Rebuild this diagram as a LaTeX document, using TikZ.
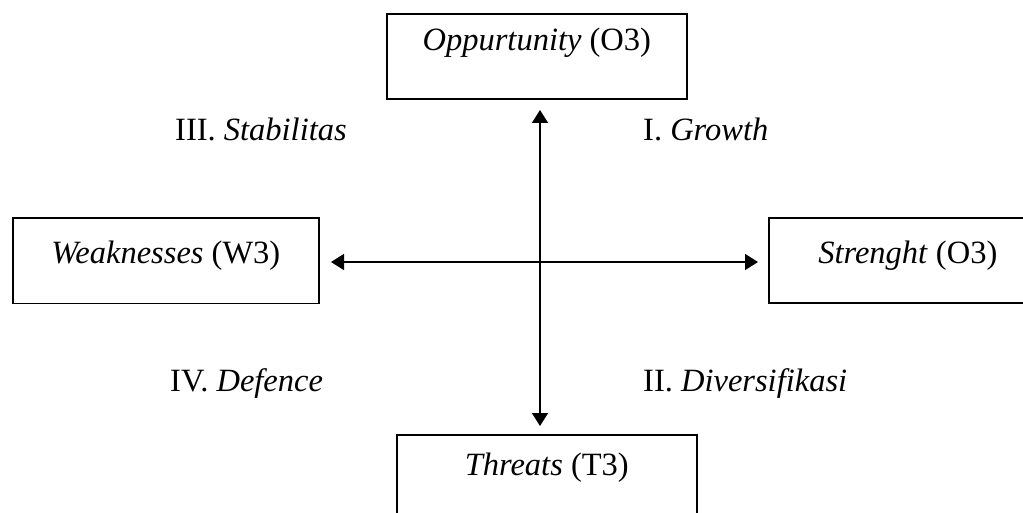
\documentclass[tikz,border=0pt]{standalone}
\usepackage{fontspec}
\setmainfont{Liberation Serif}
\usetikzlibrary{arrows.meta}
\begin{document}
\begin{tikzpicture}[x=1pt,y=-1pt,
  box/.style={draw, line width=1.6pt, rectangle, inner sep=0pt, anchor=north west,
    align=center, minimum height=85pt,
    font=\fontsize{32.5}{38}\selectfont},
  lbl/.style={anchor=base west, inner sep=0pt, font=\fontsize{32.5}{38}\selectfont},
  arr/.style={line width=1.5pt, {Triangle[length=13pt,width=16pt]}-{Triangle[length=13pt,width=16pt]}}]
\useasboundingbox (0,0) rectangle (1023,513);
\clip (0,0) rectangle (1023,513);
\node[box, minimum width=300pt, text height=37pt, text depth=48pt] (opp) at (386,13) {\textit{Oppurtunity} (O3)};
\node[box, minimum width=306pt, text height=45pt, text depth=40pt] (weak) at (12,217.5) {\textit{Weaknesses} (W3)};
\node[box, minimum width=278pt, text height=46pt, text depth=39pt] (str) at (768,217) {\textit{Strenght} (O3)};
\node[box, minimum width=300pt, text height=41pt, text depth=44pt] (thr) at (396,434) {\textit{Threats} (T3)};
\coordinate (vt) at (540,110);
\coordinate (vb) at (540,426);
\coordinate (hl) at (331,262);
\coordinate (hr) at (758,262);
\draw[arr] (vt) -- (vb);
\draw[arr] (hl) -- (hr);
\node[lbl] (q3) at (175,141) {III. \textit{Stabilitas}};
\node[lbl] (q1) at (643,141) {I. \textit{Growth}};
\node[lbl] (q4) at (170,391) {IV. \textit{Defence}};
\node[lbl] (q2) at (643,391) {II. \textit{Diversifikasi}};
\end{tikzpicture}
\end{document}
